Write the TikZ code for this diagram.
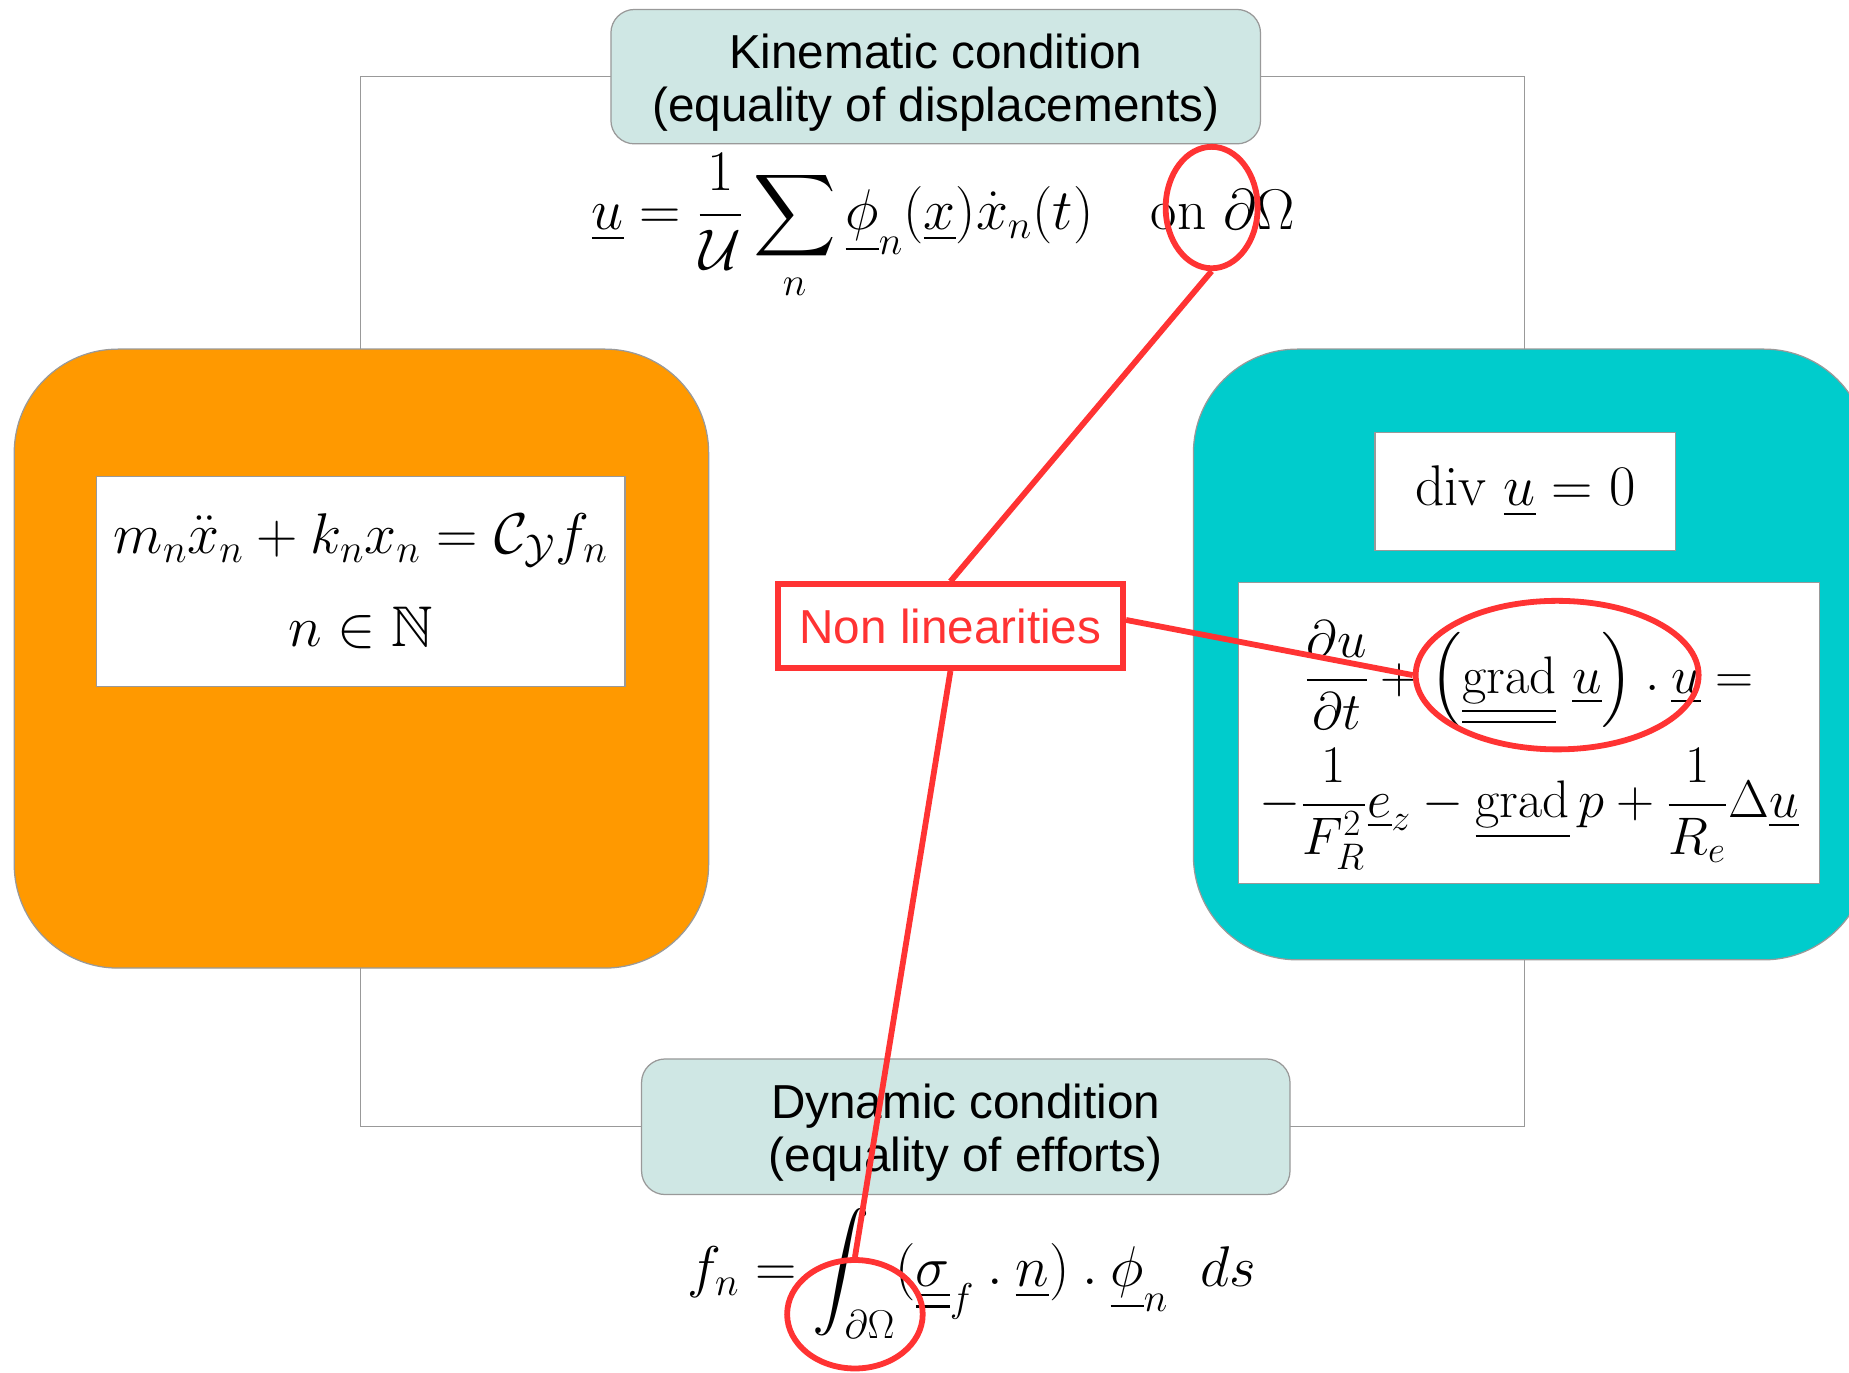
\RequirePackage{fix-cm}
\documentclass[tikz,border=0pt]{standalone}
\usepackage{amsmath,amssymb}
% blackboard bold at any size
\DeclareFontFamily{U}{msb}{}
\DeclareFontShape{U}{msb}{m}{n}{<->msbm10}{}
\usepackage{fontspec}
\newfontfamily\labelsans{Liberation Sans}
\usetikzlibrary{shapes.geometric}

\definecolor{tealbg}{HTML}{CFE7E4}
\definecolor{orangebg}{HTML}{FF9900}
\definecolor{cyanbg}{HTML}{00CCCC}
\definecolor{redc}{HTML}{FF3333}
\definecolor{framegray}{HTML}{999999}

% a product dot sitting a little above the baseline
\newcommand{\pdot}{\mathbin{\raisebox{0.1ex}{$.$}}}
% extra room above the first line of a caption box
\newcommand{\topstrut}{\rule{0pt}{22.5pt}}

\begin{document}
\begin{tikzpicture}[
  x=0.02cm, y=-0.02cm,
  frameline/.style={draw=framegray, line width=0.6pt},
  condbox/.style={rectangle, rounded corners=0.4cm, fill=tealbg, draw=framegray,
    line width=0.6pt, align=center, inner sep=0pt,
    font=\labelsans\fontsize{23}{25.5}\selectfont},
  bigbox/.style={rectangle, rounded corners=1.76cm, draw=framegray, line width=0.6pt,
    inner sep=0pt},
  eqbox/.style={rectangle, fill=white, draw=framegray, line width=0.6pt,
    align=center, inner sep=0pt, font=\fontsize{27.7}{33}\selectfont},
  eqtext/.style={inner sep=0pt, align=center, font=\fontsize{27.7}{33}\selectfont},
  nlbox/.style={rectangle, draw=redc, line width=2.8pt, fill=white, text=redc,
    inner sep=0pt, font=\labelsans\fontsize{23}{26}\selectfont},
  ring/.style={ellipse, draw=redc, line width=2.8pt, inner sep=0pt},
  redline/.style={draw=redc, line width=2.8pt}
]
\useasboundingbox (0,0) rectangle (1568,1164);
\clip (0,0) rectangle (1568,1164);

% frame linking the four blocks (drawn first, stays behind)
\coordinate (ftl) at (306,65);
\coordinate (fbr) at (1293,955);
\draw[frameline] (ftl) rectangle (fbr);

% condition boxes
\node[condbox, minimum width=11.02cm, minimum height=2.28cm] (kin) at (793.5,65)
  {\topstrut Kinematic condition\\(equality of displacements)};
\node[condbox, minimum width=11cm, minimum height=2.3cm] (dyn) at (819,955.5)
  {\topstrut Dynamic condition\\(equality of efforts)};

% structure and fluid domains
\node[bigbox, fill=orangebg, minimum width=11.78cm, minimum height=10.5cm] (mech) at (306.5,558.5) {};
\node[bigbox, fill=cyanbg, minimum width=11.44cm, minimum height=10.36cm] (fluid) at (1298,555) {};

% structure equations
\node[eqbox, minimum width=8.96cm, minimum height=3.56cm] (osc) at (306,493)
  {$m_n\ddot{x}_n + k_n x_n = \mathcal{C}_{\mathcal{Y}} f_n$\\[12pt]
   $n \in \mathbb{N}$};

% fluid equations
\node[eqbox, minimum width=5.1cm, minimum height=2cm] (divu) at (1293.5,417)
  {$\mathrm{div}\ \underline{u} = 0$};
\node[eqbox, minimum width=9.86cm, minimum height=5.1cm] (nsbox) at (1296.5,621.5) {};
\node[eqtext, font=\fontsize{25.5}{30}\selectfont] (ns) at (1296.5,632)
  {$\displaystyle \frac{\partial u}{\partial t} + \Big(\underline{\underline{\mathrm{grad}}}\ \underline{u}\Big) \pdot \underline{u} =$\\[8pt]
   $\displaystyle -\frac{1}{F_R^2}\underline{e}_z - \underline{\mathrm{grad}}\, p + \frac{1}{R_e}\Delta\underline{u}$};

% coupling equations
\node[eqtext] (kineq) at (800,193)
  {$\displaystyle \underline{u} = \frac{1}{\mathcal{U}} \sum_n \underline{\phi}_n(\underline{x})\dot{x}_n(t) \quad \mathrm{on}\ \partial\Omega$};
\node[eqtext] (dyneq) at (824,1080)
  {$\displaystyle f_n = \int_{\partial\Omega} (\underline{\underline{\sigma}}_f \pdot \underline{n}) \pdot \underline{\phi}_n \;\; ds$};

% non-linear terms
\node[nlbox, minimum width=5.86cm, minimum height=1.42cm] (nl) at (806,531) {Non linearities};
\node[ring, minimum width=1.56cm, minimum height=2.06cm] (r1) at (1027.5,176) {};
\node[ring, minimum width=4.8cm, minimum height=2.52cm] (r2) at (1320.5,572.5) {};
\node[ring, minimum width=2.3cm, minimum height=1.84cm] (r3) at (725,1114.5) {};

\draw[redline] (nl.north) -- (r1.south);
\draw[redline] ([yshift=3pt]nl.east) -- (r2.west);
\draw[redline] (nl.south) -- (r3.north);
\end{tikzpicture}
\end{document}
